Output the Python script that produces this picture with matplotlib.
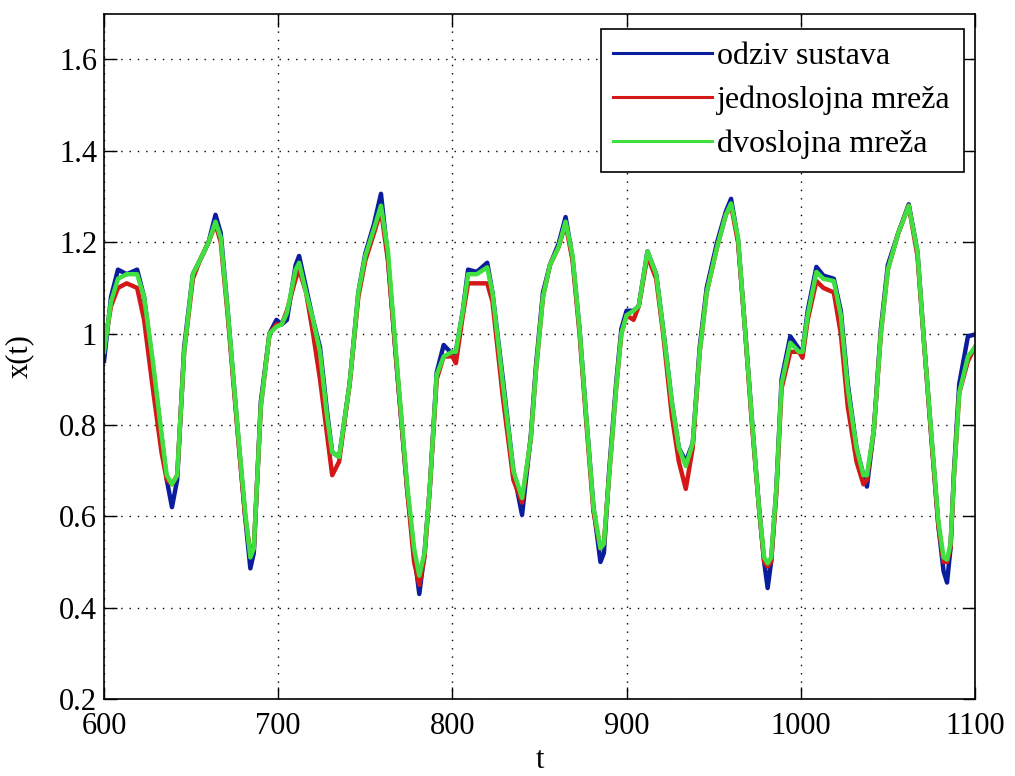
import numpy as np
import matplotlib
matplotlib.use('Agg')
import matplotlib.pyplot as plt

plt.rcParams['font.family'] = ['Liberation Serif', 'DejaVu Serif']

# vremenska os i odzivi (ocitano sa slike)
t = [600, 604, 608, 613, 619, 623, 628, 633, 636, 639, 642, 646, 651, 655, 660, 664, 667, 671,
     677, 681, 684, 686, 690, 695, 699, 702, 705, 710, 712, 716, 720, 724, 728, 731, 735, 741,
     746, 750, 755, 759, 763, 768, 774, 778, 781, 784, 787, 791, 795, 800, 802, 806, 809, 814,
     820, 823, 829, 835, 840, 845, 848, 852, 856, 861, 865, 869, 873, 877, 881, 885, 887, 890,
     894, 897, 900, 904, 907, 912, 917, 921, 926, 930, 934, 938, 942, 946, 952, 957, 960, 964,
     968, 972, 976, 979, 981, 983, 986, 989, 994, 999, 1001, 1004, 1009, 1013, 1019, 1023, 1027,
     1032, 1036, 1038, 1042, 1046, 1050, 1056, 1062, 1067, 1071, 1075, 1079, 1082, 1084, 1086,
     1088, 1091, 1096, 1100]

odziv = [0.94, 1.08, 1.14, 1.13, 1.14, 1.08, 0.93, 0.775, 0.68, 0.62, 0.68, 0.97, 1.13, 1.16,
         1.20, 1.26, 1.22, 1.05, 0.775, 0.60, 0.486, 0.52, 0.85, 1.00, 1.03, 1.02, 1.03, 1.15,
         1.17, 1.10, 1.03, 0.97, 0.83, 0.74, 0.73, 0.89, 1.09, 1.175, 1.24, 1.306, 1.165, 0.93,
         0.66, 0.52, 0.43, 0.52, 0.66, 0.915, 0.975, 0.955, 0.96, 1.05, 1.14, 1.135, 1.155, 1.09,
         0.90, 0.70, 0.603, 0.775, 0.93, 1.09, 1.15, 1.197, 1.255, 1.165, 1.01, 0.81, 0.62, 0.50,
         0.52, 0.70, 0.89, 1.01, 1.05, 1.05, 1.06, 1.18, 1.13, 1.01, 0.85, 0.75, 0.72, 0.76, 0.97,
         1.10, 1.20, 1.267, 1.295, 1.205, 1.01, 0.81, 0.62, 0.50, 0.443, 0.50, 0.66, 0.90, 0.994,
         0.966, 0.96, 1.05, 1.146, 1.127, 1.12, 1.05, 0.89, 0.75, 0.69, 0.665, 0.79, 1.01, 1.15,
         1.22, 1.283, 1.18, 0.97, 0.775, 0.58, 0.48, 0.455, 0.53, 0.70, 0.89, 0.994, 0.998]

jednoslojna = [0.97, 1.06, 1.10, 1.11, 1.10, 1.03, 0.88, 0.74, 0.68, 0.67, 0.69, 0.96, 1.12,
               1.16, 1.20, 1.24, 1.20, 1.04, 0.77, 0.60, 0.52, 0.53, 0.84, 1.00, 1.02, 1.02,
               1.05, 1.12, 1.14, 1.09, 1.00, 0.90, 0.78, 0.69, 0.72, 0.89, 1.08, 1.16, 1.22,
               1.27, 1.16, 0.93, 0.66, 0.50, 0.45, 0.51, 0.66, 0.90, 0.95, 0.95, 0.935, 1.04,
               1.11, 1.11, 1.11, 1.07, 0.86, 0.68, 0.63, 0.77, 0.92, 1.08, 1.15, 1.19, 1.24,
               1.16, 1.00, 0.80, 0.61, 0.53, 0.54, 0.69, 0.88, 1.00, 1.04, 1.03, 1.06, 1.17,
               1.12, 1.00, 0.82, 0.72, 0.66, 0.75, 0.96, 1.09, 1.19, 1.26, 1.28, 1.20, 1.01,
               0.80, 0.62, 0.50, 0.49, 0.50, 0.65, 0.88, 0.96, 0.96, 0.947, 1.03, 1.115, 1.10,
               1.09, 1.00, 0.84, 0.72, 0.67, 0.68, 0.79, 1.00, 1.14, 1.22, 1.28, 1.17, 0.97,
               0.77, 0.58, 0.50, 0.50, 0.53, 0.69, 0.87, 0.94, 0.97]

dvoslojna = [0.96, 1.07, 1.12, 1.13, 1.13, 1.08, 0.94, 0.78, 0.69, 0.67, 0.69, 0.96, 1.13,
             1.16, 1.20, 1.245, 1.21, 1.05, 0.78, 0.61, 0.51, 0.53, 0.84, 1.00, 1.015, 1.02,
             1.045, 1.14, 1.155, 1.09, 1.03, 0.96, 0.82, 0.74, 0.73, 0.89, 1.09, 1.17, 1.23,
             1.28, 1.18, 0.94, 0.67, 0.53, 0.47, 0.52, 0.66, 0.91, 0.95, 0.96, 0.96, 1.05,
             1.13, 1.13, 1.145, 1.09, 0.89, 0.70, 0.64, 0.77, 0.92, 1.08, 1.15, 1.19, 1.245,
             1.17, 1.01, 0.81, 0.62, 0.53, 0.54, 0.69, 0.88, 1.00, 1.04, 1.05, 1.06, 1.18,
             1.13, 1.01, 0.85, 0.75, 0.71, 0.76, 0.96, 1.09, 1.19, 1.26, 1.285, 1.21, 1.01,
             0.81, 0.62, 0.51, 0.497, 0.51, 0.66, 0.89, 0.98, 0.96, 0.96, 1.04, 1.135, 1.12,
             1.115, 1.04, 0.88, 0.75, 0.69, 0.69, 0.79, 1.00, 1.14, 1.22, 1.28, 1.18, 0.97,
             0.78, 0.59, 0.51, 0.505, 0.54, 0.69, 0.87, 0.95, 0.97]

xticks = [600, 700, 800, 900, 1000, 1100]
yticks = [0.2, 0.4, 0.6, 0.8, 1.0, 1.2, 1.4, 1.6]
ytick_labels = ['0.2', '0.4', '0.6', '0.8', '1', '1.2', '1.4', '1.6']

fig = plt.figure(figsize=(10.15, 7.76), dpi=100)
ax = fig.add_axes([0.1025, 0.0992, 0.858, 0.883])

ax.plot(t, odziv, color='#0a1d9c', lw=3.2, label='odziv sustava')
ax.plot(t, jednoslojna, color='#d41818', lw=3.2, label='jednoslojna mreža')
ax.plot(t, dvoslojna, color='#3fe03f', lw=3.2, label='dvoslojna mreža')

ax.set_xlim(600, 1100)
ax.set_ylim(0.2, 1.7)
ax.set_xticks(xticks)
ax.set_yticks(yticks)
ax.set_yticklabels(ytick_labels)
ax.tick_params(direction='in', length=9, width=1, top=True, right=True, labelsize=22)
ax.tick_params(axis='x', pad=9)
ax.tick_params(axis='y', pad=5)
ax.grid(True, color='black', linestyle=(0, (1, 5)), linewidth=1)
for s in ax.spines.values():
    s.set_linewidth(1.2)

ax.set_xlabel('t', fontsize=22, labelpad=4)
ax.set_ylabel('x(t)', fontsize=22, labelpad=18)

leg = ax.legend(loc='upper right', bbox_to_anchor=(0.987, 0.978), fontsize=23, fancybox=False,
                framealpha=1, edgecolor='black', borderpad=0.4, labelspacing=0.45,
                handlelength=3.1, handletextpad=0.15, borderaxespad=0)
leg.get_frame().set_linewidth(1.2)
for h in leg.get_lines():
    h.set_linewidth(2.2)

fig.savefig('out.png', dpi=100)
